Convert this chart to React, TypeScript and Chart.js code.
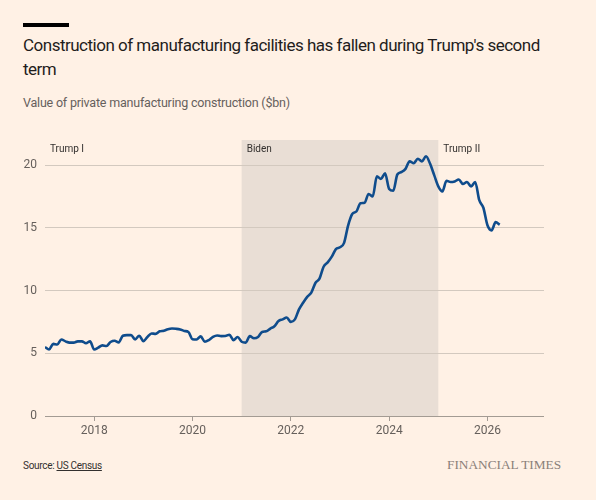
import { useEffect, useRef } from "react";
import { Chart, registerables } from "chart.js";

Chart.register(...registerables);

// Monthly value of private manufacturing construction ($bn), Jan 2017 onwards
const START_YEAR = 2017;
const values2017 = [5.5, 5.3, 5.75, 5.7, 6.1, 5.95, 5.85, 5.85, 5.95, 5.95, 5.8, 5.95];
const values2018 = [5.3, 5.45, 5.63, 5.58, 5.9, 6.0, 5.87, 6.4, 6.45, 6.45, 6.1, 6.4];
const values2019 = [5.97, 6.3, 6.58, 6.55, 6.75, 6.8, 6.92, 6.97, 6.95, 6.9, 6.78, 6.7];
const values2020 = [6.12, 6.1, 6.35, 5.92, 6.05, 6.3, 6.42, 6.37, 6.38, 6.48, 6.05, 6.3];
const values2021 = [5.92, 5.85, 6.37, 6.2, 6.3, 6.7, 6.75, 6.97, 7.15, 7.57, 7.7, 7.85];
const values2022 = [7.5, 7.7, 8.5, 9.03, 9.5, 9.83, 10.6, 10.95, 11.9, 12.25, 12.7, 13.3];
const values2023 = [13.45, 13.8, 15.2, 16.1, 16.3, 16.95, 17.0, 17.7, 17.5, 19.1, 18.9, 19.35];
const values2024 = [18.1, 17.95, 19.25, 19.45, 19.7, 20.3, 20.15, 20.5, 20.3, 20.7, 20.1, 19.2];
const values2025 = [18.3, 17.9, 18.75, 18.65, 18.7, 18.85, 18.5, 18.65, 18.3, 18.65, 17.2, 16.6];
const values2026 = [15.2, 14.8, 15.45, 15.25];

const values = [
  ...values2017, ...values2018, ...values2019, ...values2020, ...values2021,
  ...values2022, ...values2023, ...values2024, ...values2025, ...values2026,
];

const xTickYears = [2018, 2020, 2022, 2024, 2026];
const yTickValues = [0, 5, 10, 15, 20];

const periodLabels = ["Trump I", "Biden", "Trump II"];
const periodStarts = [2017, 2021, 2025];
const shadedStart = 2021;
const shadedEnd = 2025;

const X_MIN = 2017;
const X_MAX = 2027.15;
const Y_MIN = 0;
const Y_MAX = 22;

const BG = "#FFF1E5";
const SHADE = "#E9DED5";
const LINE = "#0F4C8C";
const GRID = "#D3C9BF";
const BASE = "#A39B93";
const TEXT = "#33302E";
const MUTED = "#66605C";

const FONT = "Roboto, 'Noto Sans', sans-serif";

const periodsPlugin = {
  id: "periods",
  beforeDraw(chart: any) {
    const { ctx, chartArea, scales } = chart;
    const x = scales.x;
    const left = x.getPixelForValue(shadedStart);
    const right = x.getPixelForValue(shadedEnd);
    ctx.save();
    ctx.fillStyle = SHADE;
    ctx.fillRect(left, chartArea.top, right - left, chartArea.bottom - chartArea.top);
    ctx.restore();
  },
  afterDraw(chart: any) {
    const { ctx, chartArea, scales } = chart;
    const x = scales.x;
    ctx.save();
    ctx.fillStyle = TEXT;
    ctx.font = `10px ${FONT}`;
    ctx.textBaseline = "middle";
    ctx.textAlign = "left";
    periodLabels.forEach((label, i) => {
      ctx.fillText(label, x.getPixelForValue(periodStarts[i]) + 5, chartArea.top + 9);
    });
    ctx.restore();
  },
};

export default function App() {
  const canvasRef = useRef<HTMLCanvasElement | null>(null);

  useEffect(() => {
    document.body.style.margin = "0";
    document.body.style.background = BG;
    const canvas = canvasRef.current;
    if (!canvas) return;
    const data = values.map((v, i) => ({ x: START_YEAR + i / 12, y: v }));
    const chart = new Chart(canvas, {
      type: "line",
      data: {
        datasets: [
          {
            data,
            borderColor: LINE,
            borderWidth: 2.6,
            pointRadius: 0,
            fill: false,
            cubicInterpolationMode: "monotone",
          },
        ],
      },
      options: {
        animation: false,
        responsive: false,
        layout: { padding: { left: 0, right: 52, top: 20, bottom: 0 } },
        plugins: { legend: { display: false }, tooltip: { enabled: false } },
        scales: {
          x: {
            type: "linear",
            min: X_MIN,
            max: X_MAX,
            afterBuildTicks: (s: any) => {
              s.ticks = xTickYears.map((v) => ({ value: v }));
            },
            afterFit: (s: any) => {
              s.height = 24;
            },
            ticks: {
              callback: (v: any) => String(v),
              color: MUTED,
              font: { family: FONT, size: 12 },
              padding: 3,
              maxRotation: 0,
              autoSkip: false,
            },
            grid: {
              drawOnChartArea: false,
              drawTicks: true,
              tickLength: 5,
              color: BASE,
            },
            border: { display: false },
          },
          y: {
            type: "linear",
            min: Y_MIN,
            max: Y_MAX,
            afterBuildTicks: (s: any) => {
              s.ticks = yTickValues.map((v) => ({ value: v }));
            },
            afterFit: (s: any) => {
              s.width = 45;
            },
            ticks: {
              color: MUTED,
              font: { family: FONT, size: 12 },
              padding: 8,
            },
            grid: {
              drawTicks: false,
              color: (c: any) => (c.tick && c.tick.value === 0 ? BASE : GRID),
              lineWidth: 1,
            },
            border: { display: false },
          },
        },
      },
      plugins: [periodsPlugin],
    });
    return () => chart.destroy();
  }, []);

  return (
    <div style={{ position: "relative", width: 596, height: 500, background: BG, overflow: "hidden" }}>
      <div style={{ position: "absolute", left: 23, top: 23, width: 46, height: 4, background: "#000" }} />
      <div
        style={{
          position: "absolute",
          left: 23,
          top: 33,
          width: 560,
          fontFamily: FONT,
          fontSize: 17,
          letterSpacing: "-0.5px",
          lineHeight: "24px",
          color: "#1F1D1C",
          whiteSpace: "nowrap",
        }}
      >
        Construction of manufacturing facilities has fallen during Trump's second
        <br />
        term
      </div>
      <div
        style={{
          position: "absolute",
          left: 23,
          top: 94,
          fontFamily: FONT,
          fontSize: 12.5,
          letterSpacing: "-0.2px",
          lineHeight: "18px",
          color: MUTED,
          whiteSpace: "nowrap",
        }}
      >
        Value of private manufacturing construction ($bn)
      </div>
      <canvas
        ref={canvasRef}
        width={596}
        height={320}
        style={{ position: "absolute", left: 0, top: 120, width: 596, height: 320 }}
      />
      <div
        style={{
          position: "absolute",
          left: 23,
          top: 459,
          fontFamily: FONT,
          fontSize: 10,
          letterSpacing: "-0.3px",
          lineHeight: "14px",
          color: TEXT,
          whiteSpace: "nowrap",
        }}
      >
        Source: <span style={{ textDecoration: "underline" }}>US Census</span>
      </div>
      <div
        style={{
          position: "absolute",
          left: 447,
          top: 457,
          fontFamily: "'Liberation Serif', 'DejaVu Serif', serif",
          fontSize: 13.3,
          lineHeight: "16px",
          color: "#8A8079",
          whiteSpace: "nowrap",
        }}
      >
        FINANCIAL TIMES
      </div>
    </div>
  );
}
